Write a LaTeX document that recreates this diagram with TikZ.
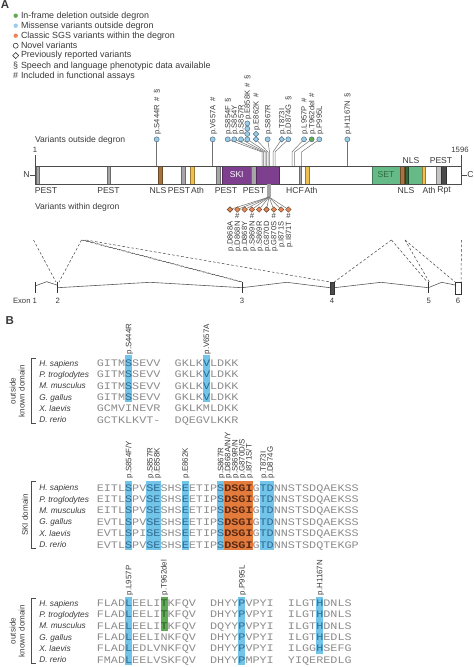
\documentclass[tikz,border=0pt]{standalone}
\usepackage{fontspec}
\setmainfont{Liberation Sans}
\newfontfamily\seqfont[FakeStretch=1.18]{Liberation Mono}
\usetikzlibrary{shapes.geometric,calc}
\definecolor{txt}{HTML}{3A3A3A}
\definecolor{seqgrey}{HTML}{8C8C8C}
\definecolor{hlblue}{HTML}{72C4E8}
\definecolor{hlorange}{HTML}{E37B3D}
\definecolor{hlgreen}{HTML}{5FAA55}
\definecolor{lbblue}{HTML}{2F6A93}
\definecolor{lborange}{HTML}{5A2A12}
\definecolor{lbgreen}{HTML}{2C5A28}
\definecolor{popblue}{HTML}{9CCDE6}
\definecolor{popedge}{HTML}{4F6F86}
\definecolor{popgreen}{HTML}{63AA4F}
\definecolor{poporange}{HTML}{E6875A}
\definecolor{ski}{HTML}{7E3F8E}
\definecolor{setg}{HTML}{66BA88}
\definecolor{nls}{HTML}{A8733F}
\definecolor{ath}{HTML}{EDC04F}
\definecolor{pest}{HTML}{A6A6A6}
\definecolor{pestl}{HTML}{C4C4C4}
\definecolor{rpt}{HTML}{4A4A4A}
\definecolor{dkg}{HTML}{2F6B3A}
\newcommand\hlb[1]{\textcolor{lbblue}{#1}}
\newcommand\hlo[1]{\textcolor{lborange}{\bfseries #1}}
\newcommand\hlg[1]{\textcolor{lbgreen}{#1}}
\newcommand\gap{\phantom{XX}}
\newcommand\hsp{\hspace{3.5pt}}
% lollipop: name, cx, bx, style, label, label bottom y
\newcommand\lolli[6]{%
  \node[#4] (#1) at (#2,139.3) {};
  \coordinate (#1b) at (#3,152);
  \coordinate (#1t) at (#3,166);
  \draw[stem] (#1) -- (#1b) -- (#1t);
  \node[vlab] (#1l) at (#2,#6) {#5};
}
\newcommand\hcol[4]{\fill[#1] ({96.8+#2*7.08},#3) rectangle ({96.8+#2*7.08+7.08},#4);}
\newcommand\clab[4]{\node[blab] (#1) at ({96.8+#2*7.08+3.54},#3) {#4};}
\newcommand\seqrow[4]{%
  \node[spc, anchor=base west] (#1s) at (39.3,#2+2.9) {#3};
  \node[seqs, anchor=base west] (#1q) at (96.8,#2+3.3) {#4};
}
\begin{document}
\begin{tikzpicture}[x=1pt,y=-1pt,
  every node/.style={inner sep=0pt, outer sep=0pt, text=txt},
  f8/.style={font=\fontsize{8.6}{10}\selectfont},
  fl/.style={font=\fontsize{8.9}{10}\selectfont},
  f75/.style={font=\fontsize{7.7}{8}\selectfont},
  pop/.style={circle, draw=popedge, fill=popblue, minimum size=5pt, line width=0.5pt},
  popg/.style={pop, fill=popgreen},
  dia/.style={diamond, draw=popedge, fill=popblue, minimum size=5.5pt, line width=0.5pt},
  diao/.style={diamond, draw=brown!50!black, fill=poporange, minimum size=5.5pt, line width=0.4pt},
  stem/.style={draw=black!55, line width=0.5pt},
  vlab/.style={rotate=90, anchor=mid west, font=\fontsize{7.6}{8}\selectfont},
  blab/.style={rotate=90, anchor=mid west, font=\fontsize{7.9}{8}\selectfont},
  seg/.style={draw=#1!65!black, fill=#1, line width=0.4pt},
  dsh/.style={draw=black!75, dash pattern=on 2.6pt off 2pt, line width=0.5pt},
  intr/.style={draw=black!65, line width=0.6pt},
  brk/.style={draw=black!70, line width=0.7pt},
  spc/.style={font=\fontsize{8.3}{9}\selectfont\itshape},
  seqs/.style={font=\seqfont\fontsize{10}{10}\selectfont, text=seqgrey},
  dom/.style={rotate=90, align=center, font=\fontsize{8.1}{9}\selectfont}]
\useasboundingbox (0,0) rectangle (474,667);

% ---------- Panel A ----------
\node[anchor=north west, font=\fontsize{11.5}{12}\selectfont\bfseries] (pA) at (1,0.5) {A};
\node[circle, fill=popgreen, minimum size=4.4pt] (lg1) at (15.7,15.7) {};
\node[circle, fill=popblue, minimum size=4.4pt] (lg2) at (15.7,25.7) {};
\node[circle, fill=poporange, minimum size=4.4pt] (lg3) at (15.7,35.7) {};
\node[circle, draw=txt, line width=0.6pt, minimum size=5pt] (lg4) at (15.7,45.7) {};
\node[diamond, draw=txt, line width=0.6pt, minimum size=6pt] (lg5) at (15.7,55.6) {};
\node[fl] (lg6) at (15.7,65.9) {\S};
\node[fl] (lg7) at (15.7,75.7) {\#};
\node[fl, anchor=west] (lt1) at (21,15.7) {In-frame deletion outside degron};
\node[fl, anchor=west] (lt2) at (21,25.7) {Missense variants outside degron};
\node[fl, anchor=west] (lt3) at (21,35.7) {Classic SGS variants within the degron};
\node[fl, anchor=west] (lt4) at (21,45.7) {Novel variants};
\node[fl, anchor=west] (lt5) at (21,55.6) {Previously reported variants};
\node[fl, anchor=west] (lt6) at (21,65.7) {Speech and language phenotypic data available};
\node[fl, anchor=west] (lt7) at (21,75.7) {Included in functional assays};

\node[f8, anchor=west] (vod) at (35,140) {Variants outside degron};
\node[f8, anchor=west] (vwd) at (35,207) {Variants within degron};

% protein bar
\fill[white] (35,166) rectangle (461,184);
\path[seg=pest] (36.3,166) rectangle (39,184);
\path[seg=pest] (107.5,166) rectangle (110.5,184);
\path[seg=nls] (158,166) rectangle (162,184);
\path[seg=pest] (181.5,166) rectangle (185.5,184);
\path[seg=ath] (190.5,166) rectangle (194,184);
\path[seg=pest] (216.5,166) rectangle (220.5,184);
\path[seg=ski] (222.5,166) rectangle (251,184);
\path[seg=pest] (251,166) rectangle (256.5,184);
\path[seg=ski] (256.5,166) rectangle (279.5,184);
\path[seg=pest] (299.5,166) rectangle (301.5,184);
\path[seg=ath] (305,166) rectangle (309,184);
\path[seg=setg] (372,166) rectangle (421.7,184);
\path[seg=nls] (400,166) rectangle (404,184);
\path[seg=dkg] (405.5,166) rectangle (408,184);
\path[seg=ath] (421.7,166) rectangle (425,184);
\path[seg=pestl] (436.5,166) rectangle (441.5,184);
\path[seg=rpt] (441.5,166) rectangle (446.5,184);
\draw[draw=black!70, line width=0.7pt] (35,166) rectangle (461,184);
\node[f8, text=white] (skil) at (236.7,175) {SKI};
\node[f8, text=dkg] (setl) at (386,175) {SET};
\node[f8] (nN) at (26.5,175) {N};
\node[f8] (nC) at (470.5,175) {C};
\draw[black!70, line width=0.6pt] ($(nN.east)+(0.8,0)$) -- (35,175);
\draw[black!70, line width=0.6pt] (461,175) -- ($(nC.west)+(-0.8,0)$);
\node[f75] (n1) at (35,149.5) {1};
\node[f75] (n1596) at (460,149.5) {1596};
\draw[black!70, line width=0.6pt] (35,155) -- (35,166);
\draw[black!70, line width=0.6pt] (461,155) -- (461,166);
\node[f8] (tnls) at (411,160.5) {NLS};
\node[f8] (tpest) at (441,160.5) {PEST};
\foreach \xx/\lab [count=\k] in {46/PEST,108.5/PEST,158/NLS,179/PEST,197.5/Ath,226/PEST,254/PEST,295/HCF,311/Ath,406/NLS,429/Ath,444/Rpt}
  \node[f8] (bl\k) at (\xx,190.3) {\lab};

% variants outside degron
\lolli{s444}{156.7}{156.7}{pop}{p.S444R\hsp\#\hsp\S}{134.5}
\lolli{v657}{212.7}{212.7}{pop}{p.V657A\hsp\#}{134.5}
\lolli{s854f}{227.7}{262}{pop}{p.S854F\hsp\S}{134.5}
\lolli{s854y}{234.3}{263.5}{pop}{p.S854Y}{134.5}
\lolli{s857}{241}{265}{pop}{p.S857R}{134.5}
\lolli{e858}{247.3}{266.5}{pop}{p.E858K\hsp\#\hsp\S}{119.8}
\lolli{e862}{256}{268}{dia}{p.E862K\hsp\#}{130.5}
\lolli{s867}{267.7}{269.5}{pop}{p.S867R}{134.5}
\lolli{t873}{281.7}{273}{dia}{p.T873I}{134.5}
\lolli{d874}{288.3}{275}{pop}{p.D874G\hsp\S}{134.5}
\lolli{l957}{304}{292}{pop}{p.L957P\hsp\#}{134.5}
\lolli{t962}{311.7}{294.5}{popg}{p.T962del\hsp\#}{134.5}
\lolli{p995}{319.3}{301.5}{pop}{p.P995L}{134.5}
\lolli{h1167}{347.3}{347.3}{pop}{p.H1167N\hsp\S}{134.5}
\node[pop] (e858x1) at (247.3,134) {};
\node[pop] (e858x2) at (247.3,128.7) {};
\node[pop] (e858x3) at (247.3,123.4) {};
\node[dia] (e862x1) at (256,134) {};

% variants within degron
\fill[pest] (267,184) rectangle (271,197);
\coordinate (fan) at (269,197);
\foreach \lab [count=\i] in {D868A,D868N,D868Y,S869N,S869R,G870D,G870S,I871S,I871T} {
  \pgfmathsetmacro\xx{230+7.3*(\i-1)}
  \node[diao] (dg\i) at (\xx,209.5) {};
  \draw[stem] (fan) -- (dg\i);
  \node[vlab, anchor=mid east] (dgl\i) at (\xx,221.5) {p.\lab};
}
\foreach \i in {2,4,7,9} {
  \pgfmathsetmacro\xx{230+7.3*(\i-1)}
  \node[f75] (dgh\i) at (\xx,215.8) {\#};
}

% gene structure
\coordinate (p0) at (33.5,240);
\coordinate (p1) at (81.5,240);
\coordinate (p2) at (83.5,240);
\coordinate (p3) at (86,240);
\coordinate (p4) at (391.5,240);
\coordinate (p5) at (405,240);
\coordinate (p6) at (461.5,240);
\draw[dsh] (p0) -- (56,282);
\draw[dsh] (p1) -- (59,282);
\draw[dsh] (p1) -- (241.3,282);
\draw[dsh] (p2) -- (242.7,282);
\draw[dsh] (p3) -- (330,282);
\draw[dsh] (p4) -- (334.3,282);
\draw[dsh] (p4) -- (427.3,282);
\draw[dsh] (p5) -- (429.3,282);
\draw[dsh] (p5) -- (455,282);
\draw[dsh] (p6) -- (461,282);
\draw[intr] (35,286) -- (46.7,281.7) -- (57.7,285.3);
\draw[intr] (57.7,287.7) -- (150,282.3) -- (242,287.7);
\draw[intr] (242,287.7) -- (286.7,282.3) -- (330,287.7);
\draw[intr] (334.3,287.7) -- (381,282.3) -- (428.3,287.7);
\draw[intr] (428.3,287.7) -- (441.7,282.3) -- (455,285);
\draw[black!80, line width=0.9pt] (35,282.3) -- (35,293.3);
\draw[black!80, line width=1.3pt] (57.7,282) -- (57.7,293.3);
\draw[black!80, line width=0.9pt] (242,282.3) -- (242,293.3);
\draw[black!80, line width=0.9pt] (428.3,282.3) -- (428.3,293.3);
\filldraw[fill=black!70, draw=black!80, line width=0.5pt] (330,282) rectangle (334.3,294);
\filldraw[fill=white, draw=black!80, line width=0.6pt] (455,282) rectangle (461,294);
\node[f75] (ex1) at (25,300.5) {Exon 1};
\node[f75] (ex2) at (57.7,300.5) {2};
\node[f75] (ex3) at (242,300.5) {3};
\node[f75] (ex4) at (332,300.5) {4};
\node[f75] (ex5) at (428.7,300.5) {5};
\node[f75] (ex6) at (458,300.5) {6};

% ---------- Panel B ----------
\node[anchor=north west, font=\fontsize{11.5}{12}\selectfont\bfseries] (pB) at (5.5,316.3) {B};

% block 1
\hcol{hlblue}{4}{355}{401.7}
\hcol{hlblue}{15}{355}{401.7}
\clab{c1a}{4}{354.3}{p.S444R}
\clab{c1b}{15}{354.3}{p.V657A}
\draw[brk] (35.5,358.3) -- (31.7,358.3) -- (31.7,423.3) -- (35.5,423.3);
\node[dom] (d1) at (17.2,391) {outside\\known domain};
\seqrow{a1}{363.3}{H. sapiens}{GITM\hlb{S}SEVV\gap GKLK\hlb{V}LDKK}
\seqrow{a2}{374.6}{P. troglodytes}{GITM\hlb{S}SEVV\gap GKLK\hlb{V}LDKK}
\seqrow{a3}{385.9}{M. musculus}{GITM\hlb{S}SEVV\gap GKLK\hlb{V}LDKK}
\seqrow{a4}{397.2}{G. gallus}{GITM\hlb{S}SEVV\gap GKLK\hlb{V}LDKK}
\seqrow{a5}{408.5}{X. laevis}{GCMVINEVR\gap GKLKMLDKK}
\seqrow{a6}{419.8}{D. rerio}{GCTKLKVT-\gap DQEGVLKKR}

% block 2
\foreach \c in {4,7,8,12,17,23,24} {\hcol{hlblue}{\c}{480.7}{550}}
\foreach \c in {18,19,20,21} {\hcol{hlorange}{\c}{480.7}{550}}
\clab{c2a}{4}{478.3}{p.S854F/Y}
\clab{c2b}{7}{478.3}{p.S857R}
\clab{c2c}{8}{478.3}{p.E858K}
\clab{c2d}{12}{478.3}{p.E862K}
\clab{c2e}{17}{478.3}{p.S867R}
\clab{c2f}{18}{478.3}{p.D868A/N/Y}
\clab{c2g}{19}{478.3}{p.S869R/N}
\clab{c2h}{20}{478.3}{p.G870D/S}
\clab{c2i}{21}{478.3}{p.I871S/T}
\clab{c2j}{23}{478.3}{p.T873I}
\clab{c2k}{24}{478.3}{p.D874G}
\draw[brk] (35.5,481.7) -- (31.7,481.7) -- (31.7,548.3) -- (35.5,548.3);
\node[dom] (d2) at (25,515) {SKI domain};
\seqrow{b1}{487.7}{H. sapiens}{EITL\hlb{S}PV\hlb{SE}SHS\hlb{E}ETIP\hlb{S}\hlo{DSGI}G\hlb{TD}NNSTSDQAEKSS}
\seqrow{b2}{499.1}{P. troglodytes}{EITL\hlb{S}PV\hlb{SE}SHS\hlb{E}ETIP\hlb{S}\hlo{DSGI}G\hlb{TD}NNSTSDQAEKSS}
\seqrow{b3}{510.5}{M. musculus}{EITL\hlb{S}PV\hlb{SE}SHS\hlb{E}ETIP\hlb{S}\hlo{DSGI}G\hlb{TD}NNSTSDQAEKSS}
\seqrow{b4}{521.9}{G. gallus}{EVTL\hlb{S}PV\hlb{SE}SHS\hlb{E}ETIP\hlb{S}\hlo{DSGI}G\hlb{TD}NNSTSDQAEKSS}
\seqrow{b5}{533.3}{X. laevis}{EVTL\hlb{S}PI\hlb{SE}SHS\hlb{E}ETIP\hlb{S}\hlo{DSGI}G\hlb{TD}NNSTSDQAEKSS}
\seqrow{b6}{544.7}{D. rerio}{EVTL\hlb{S}PV\hlb{SE}SHS\hlb{E}ETIP\hlb{S}\hlo{DSGI}G\hlb{TD}NNSTSDQTEKGP}

% block 3
\hcol{hlblue}{4}{596.7}{665}
\hcol{hlgreen}{9}{596.7}{630.7}
\hcol{hlblue}{20}{596.7}{665}
\hcol{hlblue}{31}{596.7}{653.8}
\clab{c3a}{4}{595}{p.L957P}
\clab{c3b}{9}{595}{p.T962del}
\clab{c3c}{20}{595}{p.P995L}
\clab{c3d}{31}{595}{p.H1167N}
\draw[brk] (35.5,598.3) -- (31.7,598.3) -- (31.7,663.3) -- (35.5,663.3);
\node[dom] (d3) at (17.2,631) {outside\\known domain};
\seqrow{g1}{603.3}{H. sapiens}{FLAD\hlb{L}EELI\hlg{T}KFQV\gap DHYY\hlb{P}VPYI\gap ILGT\hlb{H}DNLS}
\seqrow{g2}{614.6}{P. troglodytes}{FLAD\hlb{L}EELI\hlg{T}KFQV\gap DHYY\hlb{P}VPYI\gap ILGT\hlb{H}DNLS}
\seqrow{g3}{625.9}{M. musculus}{FLAE\hlb{L}EELI\hlg{T}KFQV\gap DQYY\hlb{P}VPYI\gap ILGT\hlb{H}DNLS}
\seqrow{g4}{637.2}{G. gallus}{FLAD\hlb{L}EELINKFQV\gap DHYY\hlb{P}VPYI\gap ILGT\hlb{H}EDLS}
\seqrow{g5}{648.5}{X. laevis}{FLAD\hlb{L}EDLVNKFQV\gap DHYY\hlb{P}VPYI\gap ILGG\hlb{H}SEFG}
\seqrow{g6}{659.8}{D. rerio}{FMAD\hlb{L}EELVSKFQV\gap DHYY\hlb{P}MPYI\gap YIQEREDLG}
\end{tikzpicture}
\end{document}
